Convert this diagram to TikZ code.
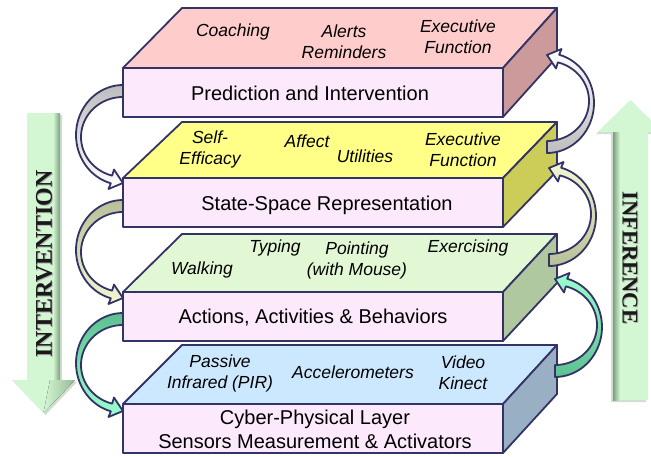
\documentclass[tikz,border=0pt]{standalone}
\usepackage{fontspec}
\setmainfont{Liberation Sans}
\newfontfamily\serifbig{Liberation Serif}
\definecolor{outl}{HTML}{333366}
\definecolor{frontc}{HTML}{FDE9FC}
\definecolor{topA}{HTML}{FFCCCC}\definecolor{sideA}{HTML}{CC9A9A}
\definecolor{topB}{HTML}{FFFF88}\definecolor{sideB}{HTML}{CCCC58}
\definecolor{topC}{HTML}{E2F8D4}\definecolor{sideC}{HTML}{B0C8A0}
\definecolor{topD}{HTML}{CCE8FF}\definecolor{sideD}{HTML}{99B0C4}
\definecolor{grayT}{HTML}{BDBDBD}\definecolor{grayH}{HTML}{FFFFFF}
\definecolor{oliveT}{HTML}{B8C098}\definecolor{oliveH}{HTML}{F2F8D2}
\definecolor{tealT}{HTML}{5CC090}\definecolor{tealH}{HTML}{9CFFD0}
\definecolor{bigA}{HTML}{D2F7D2}\definecolor{bigB}{HTML}{C6EEC6}
\definecolor{bigS}{HTML}{7E9E7E}
% left curved arrow: #1,#2 outer start point, #3 top colour, #4 head colour
\newcommand\LArr[4]{%
\draw[arrline, top color=#3, bottom color=#4]
 plot[domain=270:105, samples=36] ({#1+47*cos(\x)}, {#2+50+50*sin(\x)})
 -- ({#1-14.5}, {#2+104})
 -- ({#1}, {#2+98})
 -- ({#1-9}, {#2+84.5})
 -- plot[domain=105:270, samples=36] ({#1+42*cos(\x)}, {#2+52+40*sin(\x)})
 -- cycle;}
% right curved arrow: #1,#2 outer tail point, #3 head colour, #4 tail colour
\newcommand\RArr[4]{%
\draw[arrline, top color=#3, bottom color=#4]
 plot[domain=270:105, samples=36] ({#1-47*cos(\x)}, {#2-50-50*sin(\x)})
 -- ({#1+14.5}, {#2-104})
 -- ({#1}, {#2-98})
 -- ({#1+9}, {#2-84.5})
 -- plot[domain=105:270, samples=36] ({#1-42*cos(\x)}, {#2-52-40*sin(\x)})
 -- cycle;}
% slab: #1 front top, #2 back y, #3 top colour, #4 side colour
\newcommand\Slab[4]{%
\draw[slab, fill=#3] (123,#1) -- (182,#2) -- (557,#2) -- (503,#1) -- cycle;
\draw[slab, fill=#4] (503,#1) -- (557,#2) -- (557,{#2+49}) -- (503,{#1+49}) -- cycle;
\draw[slab, fill=frontc] (123,#1) rectangle (503,{#1+49});}
\begin{document}
\begin{tikzpicture}[x=1pt,y=-1pt,
  slab/.style={draw=outl, line width=1.8pt, line join=round},
  arrline/.style={draw=outl, line width=1.8pt, line join=round},
  toplbl/.style={font=\fontsize{17.5}{21}\selectfont\itshape, align=center, inner sep=0pt},
  frontlbl/.style={font=\fontsize{20}{24}\selectfont, align=center, inner sep=0pt},
  biglbl/.style={font=\serifbig\bfseries\fontsize{24}{28}\selectfont, inner sep=0pt}]
\path[use as bounding box] (0,0) rectangle (651,456);
% big arrows
\fill[bigS, opacity=0.35] (29,115) -- (62,115) -- (62,382) -- (77,382) -- (45.5,415) -- (14,382) -- (29,382) -- cycle;
\fill[bigA] (27,113) -- (60,113) -- (60,380) -- (75,380) -- (43.5,413) -- (12,380) -- (27,380) -- cycle;
\fill[left color=bigA, right color=bigS] (53,113) rectangle (60,380);
\fill[left color=bigA, right color=bigS!70!bigA] (60,380) -- (75,380) -- (43.5,413) -- (50,380) -- cycle;
\fill[bigS, opacity=0.35] (611,402) -- (646,402) -- (646,134) -- (661,134) -- (628.5,102) -- (596,134) -- (611,134) -- cycle;
\fill[bigA] (613,400) -- (648,400) -- (648,132) -- (663,132) -- (630.5,100) -- (598,132) -- (613,132) -- cycle;
\fill[left color=bigS, right color=bigA] (613,132) rectangle (620,400);
\node[biglbl, rotate=90, text=gray!60] (intvS) at (45,265) {INTERVENTION};
\node[biglbl, rotate=90, text=black!90] (intv) at (44,264) {INTERVENTION};
\node[biglbl, rotate=-90, text=gray!60, font=\serifbig\bfseries\fontsize{22.5}{26}\selectfont] (infS) at (631,259) {INFERENCE};
\node[biglbl, rotate=-90, text=black!90, font=\serifbig\bfseries\fontsize{22.5}{26}\selectfont] (inf) at (630,258) {INFERENCE};
% slabs
\Slab{68}{8}{topA}{sideA}
\Slab{178}{122}{topB}{sideB}
\Slab{292}{234}{topC}{sideC}
\Slab{404}{345}{topD}{sideD}
% layer 1 labels
\node[toplbl] (a1) at (233,32) {Coaching};
\node[toplbl] (a2) at (344,42) {Alerts\\Reminders};
\node[toplbl] (a3) at (458,37) {Executive\\Function};
\node[frontlbl] (af) at (310,93) {Prediction and Intervention};
% layer 2 labels
\node[toplbl] (b1) at (210,149) {Self-\\Efficacy};
\node[toplbl] (b2) at (307,141) {Affect};
\node[toplbl] (b3) at (365,156) {Utilities};
\node[toplbl] (b4) at (463,150) {Executive\\Function};
\node[frontlbl] (bf) at (327,205) {State-Space Representation};
% layer 3 labels
\node[toplbl] (c1) at (275,248) {Typing};
\node[toplbl] (c2) at (202,270) {Walking};
\node[toplbl] (c3) at (357,260) {Pointing\\(with Mouse)};
\node[toplbl] (c4) at (468,248) {Exercising};
\node[frontlbl] (cf) at (313,318) {Actions, Activities \& Behaviors};
% layer 4 labels
\node[toplbl] (d1) at (220,373) {Passive\\Infrared (PIR)};
\node[toplbl] (d2) at (353,372) {Accelerometers};
\node[toplbl] (d3) at (463,373) {Video\\Kinect};
\node[frontlbl] (df) at (315,429) {Cyber-Physical Layer\\Sensors Measurement \& Activators};
% curved arrows
\LArr{123}{85}{grayT}{grayH}
\LArr{123}{200}{oliveT}{oliveH}
\LArr{123}{313}{tealT}{tealH}
\RArr{547}{153}{grayH}{grayT}
\RArr{549}{266}{oliveH}{oliveT}
\RArr{555}{377}{tealH}{tealT}
\end{tikzpicture}
\end{document}
